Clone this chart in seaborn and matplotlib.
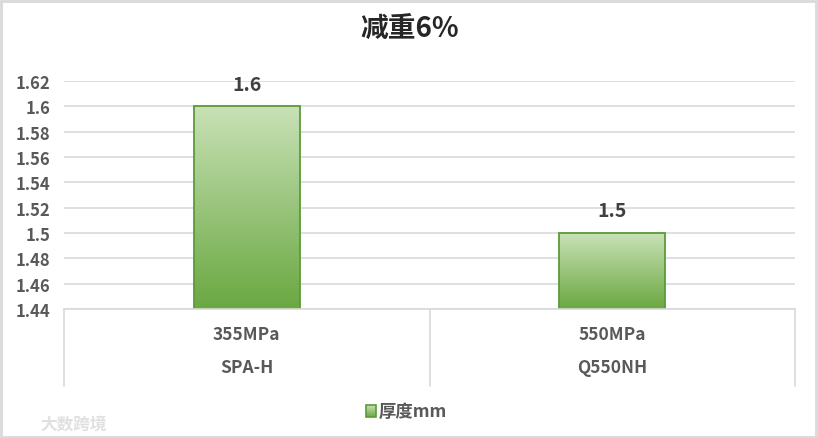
import matplotlib
matplotlib.use("Agg")
import matplotlib.pyplot as plt
import seaborn as sns
import numpy as np
import pandas as pd
from matplotlib.colors import LinearSegmentedColormap
from matplotlib.patches import Rectangle

title = "减重6%"
strengths = ["355MPa", "550MPa"]
grades = ["SPA-H", "Q550NH"]
thickness = [1.6, 1.5]
series_name = "厚度mm"
yticks = [1.44, 1.46, 1.48, 1.50, 1.52, 1.54, 1.56, 1.58, 1.60, 1.62]
ytick_labels = ["1.44", "1.46", "1.48", "1.5", "1.52", "1.54", "1.56", "1.58", "1.6", "1.62"]

sns.set_theme(style="white")
plt.rcParams['font.family'] = ['Noto Sans CJK SC', 'DejaVu Sans']

df = pd.DataFrame({"cat": grades, "val": thickness})

W, H = 818, 439
YMIN, YMAX = 1.44, 1.62
fig = plt.figure(figsize=(W / 100, H / 100), dpi=100)
fig.patch.set_facecolor("white")
ax = fig.add_axes([64 / W, 1 - 310 / H, (795 - 64) / W, (310 - 82) / H])

sns.barplot(data=df, x="cat", y="val", ax=ax, width=0.29, color="#70ad47",
            edgecolor="#5b9b38", linewidth=1.3)
ax.set_yticks(yticks)
ax.set_yticklabels(ytick_labels, fontsize=12, fontweight="bold", color="#595959")
ax.tick_params(axis="y", length=0, pad=10)
ax.set_xticks([])
ax.set_xlabel("")
ax.set_ylabel("")
for s in ["top", "right", "left"]:
    ax.spines[s].set_visible(False)
ax.spines["bottom"].set_color("#d9d9d9")
ax.spines["bottom"].set_linewidth(1.2)
ax.yaxis.grid(True, color="#d9d9d9", linewidth=1.2)
ax.set_axisbelow(True)

cmap = LinearSegmentedColormap.from_list("g", ["#6aa841", "#c8e1b6"])
grad = np.linspace(0, 1, 256).reshape(-1, 1)
for p in ax.patches:
    x0, w = p.get_x(), p.get_width()
    top = p.get_y() + p.get_height()
    ax.imshow(grad, cmap=cmap, aspect="auto", origin="lower",
              extent=[x0, x0 + w, YMIN, top], zorder=p.get_zorder(),
              interpolation="bilinear")
    p.set_facecolor("none")
    p.set_zorder(p.get_zorder() + 0.1)
ax.set_xlim(-0.5, 1.5)
ax.set_ylim(YMIN, YMAX)

for i, v in enumerate(thickness):
    ax.annotate(f"{v:g}", (i, v), xytext=(0, 9), textcoords="offset points",
                ha="center", va="bottom", fontsize=14, fontweight="bold", color="#404040")

# category table below axis
trans = ax.get_xaxis_transform()
tab_bottom = -(387 - 310) / (310 - 82)
for xv in [-0.5, 0.5, 1.5]:
    ax.plot([xv, xv], [0, tab_bottom], transform=trans, color="#d9d9d9",
            linewidth=1.2, clip_on=False)
row1 = -(335 - 310) / (310 - 82)
row2 = -(368 - 310) / (310 - 82)
for i, (s, g) in enumerate(zip(strengths, grades)):
    ax.text(i, row1, s, transform=trans, ha="center", va="center",
            fontsize=12.5, fontweight="bold", color="#595959")
    ax.text(i, row2, g, transform=trans, ha="center", va="center",
            fontsize=12.5, fontweight="bold", color="#595959")

fig.text(410 / W, 1 - 30 / H, title, ha="center", va="center", fontsize=20,
         fontweight="bold", color="#262626")

# legend
lx, ly = 366, 412
lax = fig.add_axes([lx / W, 1 - (ly + 6) / H, 10 / W, 12 / H])
lax.imshow(grad, cmap=cmap, aspect="auto", origin="lower", extent=[0, 1, 0, 1])
lax.add_patch(Rectangle((0, 0), 1, 1, fill=False, edgecolor="#5b9b38", linewidth=1.2,
                        transform=lax.transAxes, clip_on=False))
lax.set_axis_off()
fig.text(379 / W, 1 - ly / H, series_name, ha="left", va="center", fontsize=12.5,
         fontweight="bold", color="#595959")

# watermark
fig.text(40 / W, 1 - 424 / H, "大数跨境", ha="left", va="center", fontsize=12,
         color="#e0e0e0", fontweight="bold")

fig.patches.append(Rectangle((1 / W, 1 / H), 1 - 3 / W, 1 - 3 / H, transform=fig.transFigure,
                             fill=False, edgecolor="#d9d9d9", linewidth=2))

fig.savefig("out.png", dpi=100, facecolor="white")
